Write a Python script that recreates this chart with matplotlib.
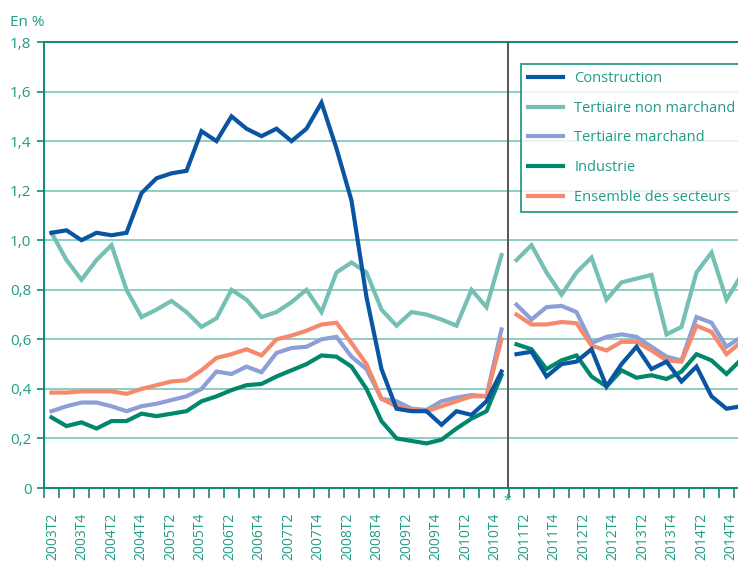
import numpy as np
import matplotlib
matplotlib.use("Agg")
import matplotlib.pyplot as plt
import matplotlib.transforms as mtransforms

plt.rcParams["font.family"] = ["Open Sans", "DejaVu Sans"]

# Quarters from 2003T2 to 2014T4
quarters = [f"{y}T{q}" for y in range(2003, 2015) for q in range(1, 5)][1:]

# Values in %, first block 2003T2-2010T4, second block 2011T1-2014T4
construction = [1.03, 1.04, 1.00, 1.03, 1.02, 1.03, 1.19, 1.25, 1.27, 1.28,
                1.44, 1.40, 1.50, 1.45, 1.42, 1.45, 1.40, 1.45, 1.555, 1.37,
                1.16, 0.77, 0.48, 0.32, 0.31, 0.31, 0.255, 0.31, 0.295, 0.35, 0.47,
                0.54, 0.55, 0.45, 0.50, 0.51, 0.56, 0.41, 0.50, 0.57, 0.48,
                0.51, 0.43, 0.49, 0.37, 0.32, 0.33]
tertiaire_non_marchand = [1.03, 0.92, 0.84, 0.92, 0.98, 0.80, 0.69, 0.72, 0.755, 0.71,
                          0.65, 0.685, 0.80, 0.76, 0.69, 0.71, 0.75, 0.80, 0.71, 0.87,
                          0.91, 0.87, 0.72, 0.655, 0.71, 0.70, 0.68, 0.655, 0.80, 0.73, 0.94,
                          0.92, 0.98, 0.87, 0.78, 0.87, 0.93, 0.76, 0.83, 0.845, 0.86,
                          0.62, 0.65, 0.87, 0.95, 0.76, 0.86]
tertiaire_marchand = [0.31, 0.33, 0.345, 0.345, 0.33, 0.31, 0.33, 0.34, 0.355, 0.37,
                      0.40, 0.47, 0.46, 0.49, 0.467, 0.545, 0.565, 0.57, 0.60, 0.61,
                      0.53, 0.48, 0.36, 0.35, 0.32, 0.315, 0.35, 0.365, 0.375, 0.37, 0.64,
                      0.74, 0.68, 0.73, 0.735, 0.71, 0.585, 0.61, 0.62, 0.61, 0.57,
                      0.53, 0.515, 0.69, 0.667, 0.57, 0.61]
industrie = [0.285, 0.25, 0.265, 0.24, 0.27, 0.27, 0.30, 0.29, 0.30, 0.31,
             0.35, 0.37, 0.395, 0.415, 0.42, 0.45, 0.475, 0.50, 0.535, 0.53,
             0.49, 0.40, 0.27, 0.20, 0.19, 0.18, 0.195, 0.24, 0.28, 0.31, 0.455,
             0.58, 0.56, 0.48, 0.515, 0.535, 0.45, 0.41, 0.475, 0.445, 0.455,
             0.44, 0.47, 0.54, 0.515, 0.46, 0.52]
ensemble = [0.385, 0.385, 0.39, 0.39, 0.39, 0.38, 0.40, 0.415, 0.43, 0.435,
            0.475, 0.525, 0.54, 0.56, 0.535, 0.60, 0.615, 0.635, 0.66, 0.667,
            0.585, 0.50, 0.36, 0.33, 0.315, 0.31, 0.33, 0.35, 0.37, 0.37, 0.60,
            0.70, 0.66, 0.66, 0.67, 0.665, 0.575, 0.555, 0.59, 0.59, 0.555,
            0.515, 0.51, 0.655, 0.63, 0.54, 0.59]

n_first = 31  # number of quarters before the break (up to 2010T4)

series = [
    ("Construction", construction, "#0a55a3", 6),
    ("Tertiaire non marchand", tertiaire_non_marchand, "#74c0b4", 2),
    ("Tertiaire marchand", tertiaire_marchand, "#8e9ed6", 3),
    ("Industrie", industrie, "#00876c", 4),
    ("Ensemble des secteurs", ensemble, "#f5896c", 5),
]

teal_text = "#1f9c88"
teal_axis = "#0d8a74"
grid_col = "#7cc6ba"

fig = plt.figure(figsize=(7.38, 5.61), dpi=100)
# axes run slightly past the right edge, like the cropped original
ax = fig.add_axes([44 / 738, 73 / 561, 705 / 738, 446 / 561])

x = np.arange(len(quarters))
handles = []
for name, vals, col, z in series:
    vals = np.array(vals)
    h, = ax.plot(x[:n_first], vals[:n_first], color=col, lw=3, zorder=z,
                 solid_joinstyle="miter", label=name)
    ax.plot(x[n_first:], vals[n_first:], color=col, lw=3, zorder=z,
            solid_joinstyle="miter")
    handles.append(h)

# break marker between 2010T4 and 2011T1
ax.axvline(30.4, color="#555555", lw=1.4, zorder=7)
trans = mtransforms.blended_transform_factory(ax.transData, ax.transAxes)
ax.text(30.4, -0.03, "*", transform=trans, ha="center", va="center",
        color=teal_text, fontsize=10)

ax.set_xlim(-0.5, len(quarters) - 0.5)
ax.set_ylim(0, 1.8)

# y axis
yticks = np.arange(0, 1.81, 0.2)
ax.set_yticks(yticks)
ax.set_yticklabels(["0"] + [f"{v:.1f}".replace(".", ",") for v in yticks[1:]])
ax.tick_params(axis="y", colors=teal_axis, labelcolor=teal_text, labelsize=11,
               length=5, width=1.2, pad=4)
ax.yaxis.grid(True, color=grid_col, lw=1.2, zorder=0)

# x axis: labels every other quarter (squeezed a little, as in the original
# where the last label still fits), ticks on quarter boundaries
label_pos = 0.06 + 0.984 * x[::2]
ax.set_xticks(label_pos)
ax.set_xticklabels(quarters[::2], rotation=90, va="top")
ax.set_xticks(np.arange(-0.5, len(quarters), 1), minor=True)
ax.tick_params(axis="x", which="major", length=0, labelcolor=teal_text,
               labelsize=10, pad=18)
ax.tick_params(axis="x", which="minor", length=7, width=1.2, colors=teal_axis)

for side in ["left", "bottom", "top"]:
    ax.spines[side].set_color(teal_axis)
    ax.spines[side].set_linewidth(1.4)
ax.spines["right"].set_visible(False)
ax.set_axisbelow(True)

fig.text(10 / 738, 1 - 22 / 561, "En %", color=teal_text, fontsize=11,
         ha="left", va="center")

leg = ax.legend(handles=handles, loc="upper left",
                bbox_to_anchor=(521 / 738, 1 - 64 / 561),
                bbox_transform=fig.transFigure, frameon=True, fancybox=False,
                fontsize=10.5, handlelength=2.4, handletextpad=0.75,
                labelspacing=1.0, borderpad=0.5, borderaxespad=0)
leg.get_frame().set_edgecolor(teal_axis)
leg.get_frame().set_linewidth(1.4)
leg.set_zorder(10)
for t in leg.get_texts():
    t.set_color(teal_text)
for l in leg.get_lines():
    l.set_linewidth(3)

fig.savefig("out.png", dpi=100)
